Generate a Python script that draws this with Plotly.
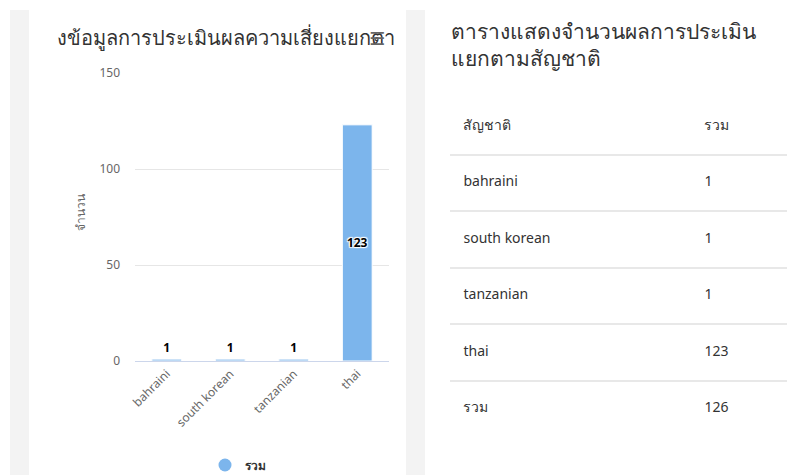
import plotly.graph_objects as go

# data for the bar chart
nationality = ["bahraini", "south korean", "tanzanian", "thai"]
total = [1, 1, 1, 123]
bar_series = "รวม"

# data for the table on the right
table_header = ["สัญชาติ", "รวม"]
table_names = ["bahraini", "south korean", "tanzanian", "thai", "รวม"]
table_totals = ["1", "1", "1", "123", "126"]

chart_title = "งข้อมูลการประเมินผลความเสี่ยงแยกตา"
y_title = "จำนวน"
table_title = "ตารางแสดงจำนวนผลการประเมิน<br>แยกตามสัญชาติ"

W, H = 787, 475
FONT = "Noto Sans, sans-serif"
BLUE = "#7cb5ec"


def px(x):
    return x / W


def py(y):
    return 1 - y / H


fig = go.Figure()

# bar chart (left card)
fig.add_trace(go.Bar(
    x=nationality, y=total,
    text=total,
    textposition=["outside" if v < 60 else "inside" for v in total],
    insidetextanchor="middle",
    textangle=0,
    textfont=dict(size=12, color="#000000", family=FONT, weight="bold",
                  shadow="1px 1px 1px #fff, -1px -1px 1px #fff, 1px -1px 1px #fff, -1px 1px 1px #fff"),
    cliponaxis=False,
    marker=dict(color=BLUE, line=dict(color="#ffffff", width=1)),
    width=0.47,
    showlegend=False,
    xaxis="x", yaxis="y",
))
# legend entry with round marker
fig.add_trace(go.Scatter(
    x=[None], y=[None], mode="markers", name=bar_series,
    marker=dict(color=BLUE, size=13, symbol="circle"),
    xaxis="x", yaxis="y",
))

# table (right card): rows on a reversed numeric axis, separators are gridlines
rows = [table_header[0]] + table_names
vals = [table_header[1]] + table_totals
row_idx = list(range(len(rows)))
fig.add_trace(go.Scatter(
    x=[0.04] * len(rows), y=row_idx, text=rows, mode="text",
    textposition="middle right",
    textfont=dict(size=14, color="#333333", family=FONT),
    showlegend=False, hoverinfo="skip", xaxis="x2", yaxis="y2",
))
fig.add_trace(go.Scatter(
    x=[0.755] * len(vals), y=row_idx, text=vals, mode="text",
    textposition="middle right",
    textfont=dict(size=14, color="#333333", family=FONT),
    showlegend=False, hoverinfo="skip", xaxis="x2", yaxis="y2",
))

fig.update_layout(
    width=W, height=H,
    margin=dict(l=0, r=0, t=0, b=0, autoexpand=False),
    paper_bgcolor="#ffffff",
    plot_bgcolor="rgba(0,0,0,0)",
    font=dict(family=FONT, color="#666666"),
    bargap=0.53,
    xaxis=dict(
        domain=[px(135), px(389)],
        anchor="y", automargin=False,
        tickangle=-45,
        tickfont=dict(size=12, color="#666666"),
        showgrid=False,
        showline=True, linecolor="#ccd6eb", linewidth=1,
        ticks="", fixedrange=True,
    ),
    yaxis=dict(
        domain=[py(361), py(73)],
        anchor="x", automargin=False,
        range=[0, 150],
        tickvals=[0, 50, 100, 150],
        tickfont=dict(size=12, color="#666666"),
        gridcolor="#e6e6e6", gridwidth=1,
        zeroline=False, showline=False,
        ticklabelstandoff=14,
        fixedrange=True,
    ),
    xaxis2=dict(
        domain=[px(450), 1.0], anchor="y2", range=[0, 1],
        visible=False, fixedrange=True, automargin=False,
    ),
    yaxis2=dict(
        domain=[py(437), py(98)], anchor="x2", automargin=False,
        range=[5.5, -0.5],
        tickvals=[-0.5, 0.5, 1.5, 2.5, 3.5, 4.5],
        showticklabels=False, ticks="",
        showgrid=True, gridcolor="#e8e8e8", gridwidth=2,
        zeroline=False, showline=False, fixedrange=True,
    ),
    legend=dict(
        orientation="h", x=px(205), y=py(465),
        xanchor="left", yanchor="middle",
        font=dict(size=12, color="#333333", family=FONT, weight="bold"),
        bgcolor="rgba(0,0,0,0)",
    ),
    shapes=[
        dict(type="rect", xref="paper", yref="paper", layer="below",
             x0=px(10), x1=px(29), y0=0, y1=py(10),
             fillcolor="#f3f3f3", line=dict(width=0)),
        dict(type="rect", xref="paper", yref="paper", layer="below",
             x0=px(406), x1=px(425), y0=0, y1=py(10),
             fillcolor="#f3f3f3", line=dict(width=0)),
    ],
    annotations=[
        dict(text=chart_title, xref="paper", yref="paper",
             x=px(55), y=py(38), xanchor="left", yanchor="middle",
             showarrow=False, font=dict(size=20, color="#333333", family=FONT)),
        dict(text="☰", xref="paper", yref="paper",
             x=px(377), y=py(39), xanchor="center", yanchor="middle",
             showarrow=False, font=dict(size=18, color="#666666", family="DejaVu Sans")),
        dict(text=y_title, xref="paper", yref="paper",
             x=px(80), y=py(213), xanchor="center", yanchor="middle",
             textangle=-90, showarrow=False,
             font=dict(size=12, color="#666666", family=FONT)),
        dict(text=table_title, xref="paper", yref="paper",
             x=px(449), y=py(15), xanchor="left", yanchor="top", align="left",
             showarrow=False, font=dict(size=21, color="#333333", family=FONT)),
    ],
)

# page has default body margin; drop it so the figure fills the window
fig.write_html("out.html", config={"displayModeBar": False},
               post_script="document.body.style.margin='0';document.body.style.overflow='hidden';")
